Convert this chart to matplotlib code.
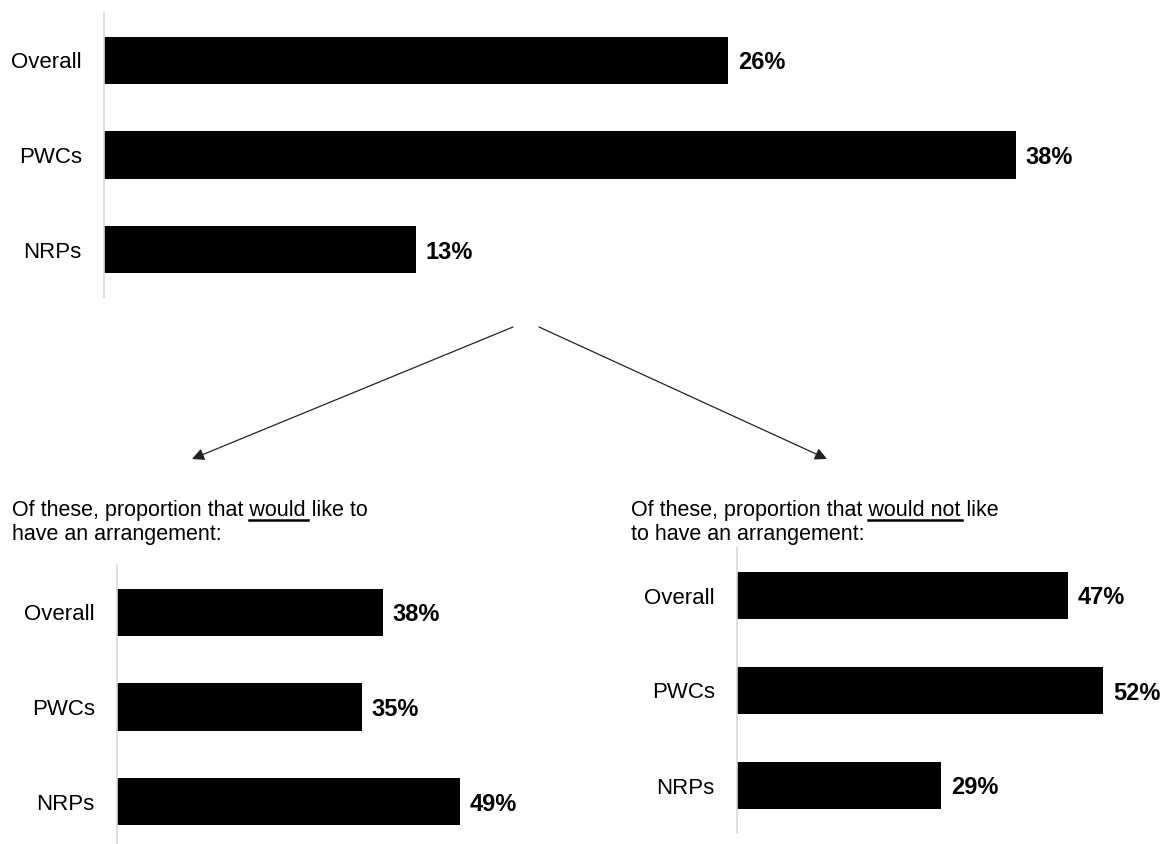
import matplotlib
matplotlib.use("Agg")
import matplotlib.pyplot as plt
from matplotlib.patches import FancyArrowPatch
from matplotlib.lines import Line2D

plt.rcParams['font.family'] = ['Liberation Sans', 'DejaVu Sans']

categories = ["Overall", "PWCs", "NRPs"]
have_arrangement = [26, 38, 13]
would_like = [38, 35, 49]
would_not_like = [47, 52, 29]

W, H = 1163, 844
fig = plt.figure(figsize=(W / 100, H / 100), dpi=100)


def px_axes(x0, y0, w, h):
    # pixel box (top-left origin) -> figure fraction
    return fig.add_axes([x0 / W, 1 - (y0 + h) / H, w / W, h / H])


def bar_panel(ax, values, px_per_pct):
    ypos = range(len(categories))
    ax.barh(ypos, values, height=0.5, color="black")
    w_px = ax.get_position().width * W
    ax.set_xlim(0, w_px / px_per_pct)
    ax.set_ylim(2.5, -0.5)
    ax.set_yticks(list(ypos))
    ax.set_yticklabels(categories, fontsize=16)
    ax.tick_params(axis="y", length=0, pad=16)
    ax.set_xticks([])
    for s in ["top", "right", "bottom"]:
        ax.spines[s].set_visible(False)
    ax.spines["left"].set_color("#d9d9d9")
    ax.spines["left"].set_linewidth(1.2)
    for y, v in zip(ypos, values):
        ax.annotate(f"{v}%", (v, y), xytext=(7, 0), textcoords="offset points",
                    ha="left", va="center_baseline", fontsize=17, fontweight="bold")


ax_top = px_axes(104, 13, 1050, 284)
bar_panel(ax_top, have_arrangement, 24.0)

ax_left = px_axes(117, 565, 420, 284)
bar_panel(ax_left, would_like, 7.0)

ax_right = px_axes(737, 548, 420, 285)
bar_panel(ax_right, would_not_like, 7.04)

# arrows
for start, end in [((513, 327), (192, 459)), ((539, 327), (827, 459))]:
    arr = FancyArrowPatch((start[0] / W, 1 - start[1] / H), (end[0] / W, 1 - end[1] / H),
                          transform=fig.transFigure, arrowstyle="-|>",
                          mutation_scale=18, lw=0.9, color="#222222",
                          shrinkA=0, shrinkB=0)
    fig.add_artist(arr)

# headings with underlined words
renderer = fig.canvas.get_renderer()


def heading(x, line1, line2, upto, word):
    fs = 15.5
    fig.text(x / W, 1 - 516 / H, line1, fontsize=fs, va="baseline", ha="left")
    fig.text(x / W, 1 - 540 / H, line2, fontsize=fs, va="baseline", ha="left")
    t1 = fig.text(0, 0, upto, fontsize=fs)
    t2 = fig.text(0, 0, word, fontsize=fs)
    w_upto = t1.get_window_extent(renderer).width
    w_word = t2.get_window_extent(renderer).width
    t1.remove()
    t2.remove()
    x_end = x + w_upto
    x_start = x_end - w_word
    fig.add_artist(Line2D([x_start / W, (x_end + 2) / W], [1 - 519.5 / H] * 2,
                          transform=fig.transFigure, color="black", lw=1.8))


heading(12, "Of these, proportion that would like to", "have an arrangement:",
        "Of these, proportion that would", "would")
heading(631, "Of these, proportion that would not like", "to have an arrangement:",
        "Of these, proportion that would not", "would not")

fig.savefig("out.png", dpi=100)
